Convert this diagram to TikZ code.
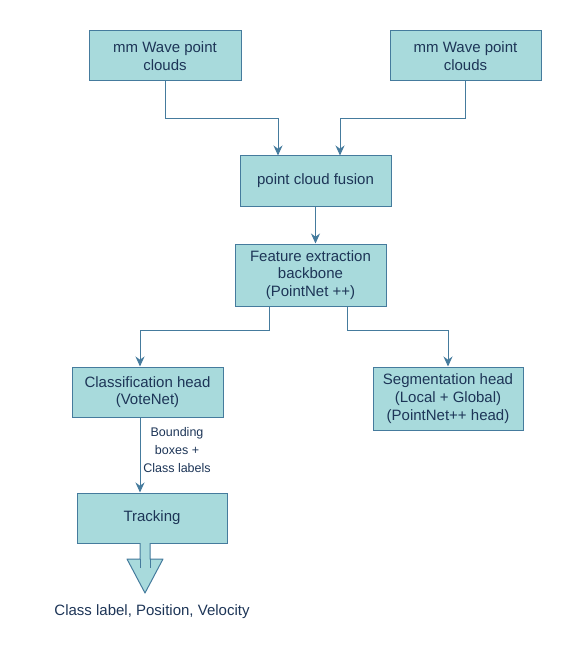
\documentclass[tikz,border=0pt]{standalone}
\usepackage{fontspec}
\setmainfont{Liberation Sans}
\usetikzlibrary{arrows.meta}

\definecolor{boxfill}{HTML}{A8DADC}
\definecolor{boxline}{HTML}{457B9D}
\definecolor{boxtext}{HTML}{1D3557}

\begin{document}
\begin{tikzpicture}[x=1pt,y=-1pt,
        block/.style={draw=boxline, fill=boxfill, text=boxtext, line width=1pt,
            align=center, inner sep=0pt, font=\fontsize{15}{17.7}\selectfont},
        flow/.style={draw=boxline, line width=1pt, -{Stealth[length=10pt,width=9pt]}},
        note/.style={text=boxtext, align=center, inner sep=0pt}]
        \useasboundingbox (0,0) rectangle (585,655);

        \node[block, minimum width=152pt, minimum height=50pt] (mmleft) at (165,56) {mm Wave point\\clouds};
        \node[block, minimum width=151pt, minimum height=50pt] (mmright) at (465.5,56) {mm Wave point\\clouds};
        \node[block, minimum width=151pt, minimum height=50pt] (fusion) at (315.5,181) {point cloud fusion};
        \node[block, minimum width=151pt, minimum height=62pt] (feat) at (310.5,275) {Feature extraction\\backbone\\(PointNet ++)};
        \node[block, minimum width=151pt, minimum height=50pt] (cls) at (147.5,392) {Classification head\\(VoteNet)};
        \node[block, minimum width=150pt, minimum height=63pt] (seg) at (448,398.5) {Segmentation head\\(Local + Global)\\(PointNet++ head)};
        \node[block, minimum width=150pt, minimum height=50pt] (track) at (152,518) {Tracking};

        \node[note, font=\fontsize{12.5}{17.7}\selectfont] (bbox) at (177,450) {Bounding\\boxes +\\Class labels};
        \node[note, font=\fontsize{15}{18}\selectfont] (out) at (152,612) {Class label, Position, Velocity};

        \draw[flow] (mmleft.south) -- ++(0,37) -| ([xshift=-37.5pt]fusion.north);
        \draw[flow] ([xshift=-0.5pt]mmright.south) -- ++(0,37) -| ([xshift=24.5pt]fusion.north);
        \draw[flow] (fusion.south) -- ([xshift=5pt]feat.north);
        \draw[flow] ([xshift=-41.5pt]feat.south) -- ++(0,24) -| ([xshift=-7.5pt]cls.north);
        \draw[flow] ([xshift=36.5pt]feat.south) -- ++(0,24) -| (seg.north);
        \draw[flow] ([xshift=-7.5pt]cls.south) -- ([xshift=-12pt]track.north);

        % output arrow
        \draw[boxline, fill=boxfill, line width=1pt, line join=round]
            (140,543) -- (140,559) -- (127,559) -- (145,593) -- (163,559) -- (150,559) -- (150,543);
        \draw[boxline, line width=1pt] (140,559) -- (140,568);
        \draw[boxline, line width=1pt] (150,559) -- (150,568);
    \end{tikzpicture}
\end{document}
